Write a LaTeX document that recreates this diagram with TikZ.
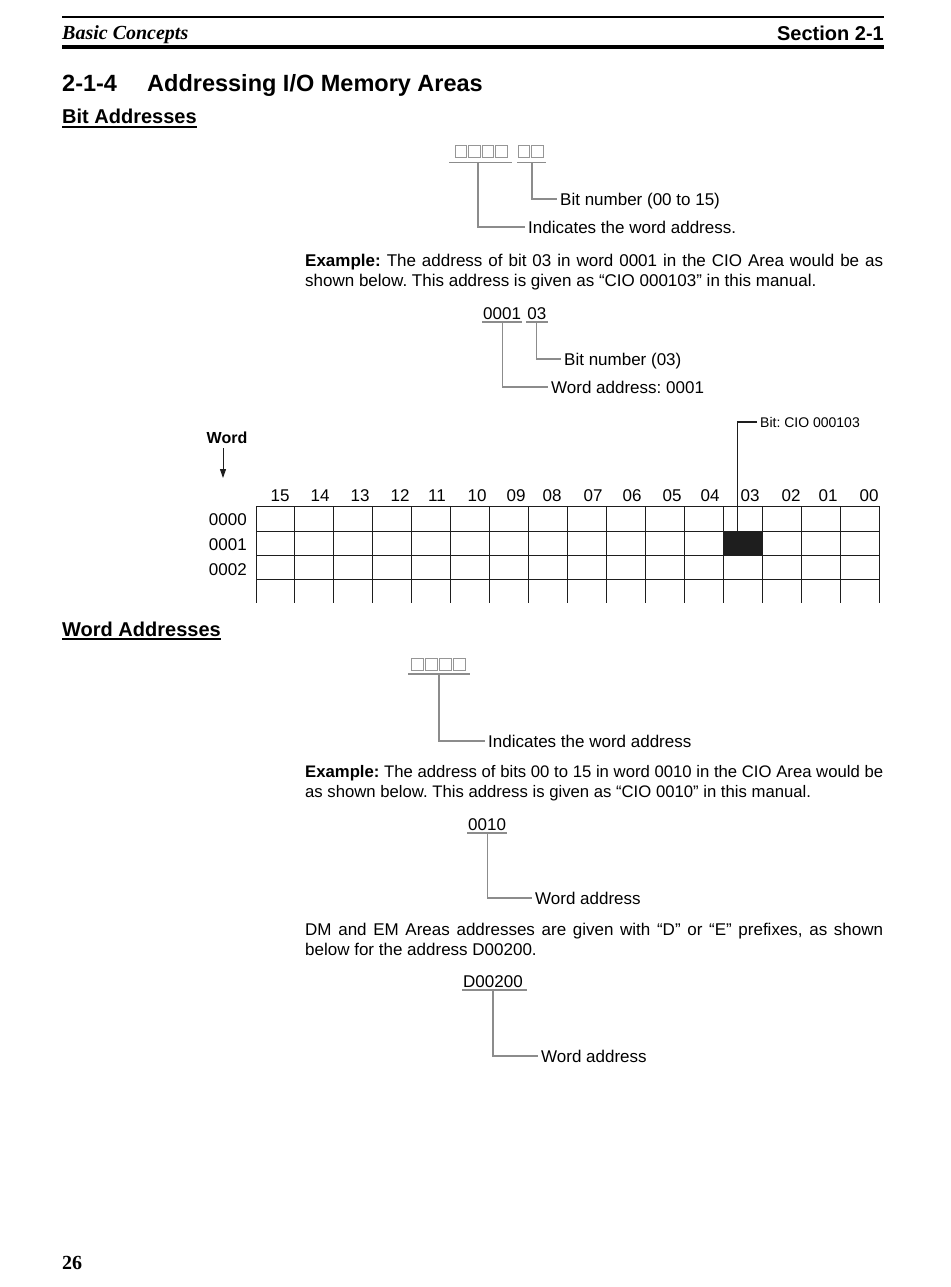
\documentclass[tikz,border=0pt]{standalone}
\usepackage{fontspec}
\setmainfont{Liberation Sans}
\newfontfamily\headserif{Liberation Serif}
\usepackage{tikz}
\usetikzlibrary{positioning,arrows.meta}
\usepackage{xcolor}
\definecolor{leadgray}{RGB}{140,140,140}
\definecolor{boxgray} {RGB}{150,150,150}
\definecolor{gridink} {RGB}{30, 30, 30}

\newcommand{\bodysize}{\fontsize{17}{20}\selectfont\frenchspacing}
\newcommand{\headsize}{\fontsize{20}{24}\selectfont}

\tikzset{
  plain/.style={inner sep=0pt, anchor=base west, font=\bodysize},
  addr/.style={inner sep=0pt, anchor=base west, font=\bodysize},
  lbl/.style={inner xsep=3pt, inner ysep=0pt, anchor=west,
              text height=12pt, text depth=0pt, font=\bodysize},
  lead/.style={draw=leadgray, line width=1.1pt},
  uline/.style={draw=leadgray, line width=1.1pt},
  sqbox/.style={draw=boxgray, line width=0.9pt},
  para/.style={inner sep=0pt, anchor=north west, text width=578pt,
               align=justify, font=\bodysize},
  cell/.style={draw=gridink, line width=1pt},
}

\begin{document}
\frenchspacing
\begin{tikzpicture}[x=1pt,y=-1pt]
  \useasboundingbox[fill=white] (0,0) rectangle (950,1287);

  % page head
  \draw[line width=1.5pt] (62,17) -- (884,17);
  \node[plain, font=\headsize\headserif\bfseries\itshape] (runhead) at (62,40) {Basic Concepts};
  \node[plain, anchor=base east, font=\headsize\bfseries] (sechead) at (884,41) {Section 2-1};
  \draw[line width=4.5pt] (62,47) -- (884,47);

  \node[plain, font=\fontsize{23.5}{28}\selectfont\bfseries] (secnum) at (62,92) {2-1-4};
  \node[plain, font=\fontsize{23.5}{28}\selectfont\bfseries] (sectitle) at (147,92) {Addressing I/O Memory Areas};

  \node[plain, font=\headsize\bfseries] (bithd) at (62,124) {Bit Addresses};
  \draw[line width=1.6pt] ([yshift=-3pt]bithd.base west) -- ([yshift=-3pt]bithd.base east);

  % bit address form
  \foreach \k in {0,...,3}
    \draw[sqbox] (455+\k*13.5,145) rectangle ++(11.5,12);
  \foreach \k in {0,1}
    \draw[sqbox] (518+\k*13.5,145) rectangle ++(11.5,12);
  \draw[uline] (449,162.5) -- (512,162.5);
  \draw[uline] (517,162.5) -- (546,162.5);
  \coordinate (wtick) at (478,162.5);
  \coordinate (btick) at (532,162.5);
  \node[lbl] (bitnum) at (557,199) {Bit number (00 to 15)};
  \node[lbl] (wordind) at (525,227) {Indicates the word address.};
  \draw[lead] (btick) |- (bitnum.west);
  \draw[lead] (wtick) |- (wordind.west);

  \node[para] (ex1) at (305,252) {\strut\textbf{Example:} The address of bit 03 in word 0001 in the CIO Area would be as\linebreak shown below. This address is given as “CIO 000103” in this manual.};

  % example 0001 03
  \node[addr] (w0001) at (483,319) {0001};
  \node[addr, base right=6pt of w0001] (b03) {03};
  \draw[uline] ([shift={(-1pt,-3pt)}]w0001.base west) -- ([shift={(1pt,-3pt)}]w0001.base east);
  \draw[uline] ([shift={(-1pt,-3pt)}]b03.base west) -- ([shift={(1pt,-3pt)}]b03.base east);
  \node[lbl] (bitnum3) at (561,359) {Bit number (03)};
  \node[lbl] (wordaddr1) at (548,387) {Word address: 0001};
  \draw[lead] ([yshift=-3pt]b03.base) |- (bitnum3.west);
  \draw[lead] ([yshift=-3pt]w0001.base) |- (wordaddr1.west);

  % memory map
  \node[plain, anchor=base, font=\fontsize{16}{19}\selectfont\bfseries] (wordhd) at (227,443) {Word};
  \coordinate (wordtip) at (223,478);
  \draw[-{Triangle[width=6pt,length=9pt]}, line width=1pt, gridink]
    (wordhd.south -| wordtip) ++(0,5) -- (wordtip);

  \foreach \bn/\bx in {15/280,14/320,13/360,12/400,11/437,10/477,09/516,08/552,
                       07/593,06/632,05/672,04/710,03/750,02/791,01/828,00/869}
    \node[plain, anchor=base] (col\bn) at (\bx,501) {\bn};
  \foreach \w/\wy in {0000/525,0001/550,0002/575}
    \node[plain, anchor=base east] (row\w) at (247,\wy) {\w};

  \foreach \c in {0,...,16}
    \draw[cell] (256+\c*38.94,506) -- (256+\c*38.94,603);
  \foreach \r in {506,531,555,579}
    \draw[cell] (256,\r) -- (879,\r);
  \node[fill=gridink, inner sep=0pt, minimum width=38.94pt, minimum height=24pt,
        anchor=north west] (bit03) at (723.3,531) {};

  \node[lbl, font=\fontsize{14}{16}\selectfont\frenchspacing, text height=10pt] (bitlbl) at (757,422) {Bit: CIO 000103};
  \draw[line width=1.2pt, gridink] (bitlbl.west) -| ([xshift=-5.7pt]bit03.north);

  % word addresses
  \node[plain, font=\headsize\bfseries] (wordhd2) at (62,636) {Word Addresses};
  \draw[line width=1.6pt] ([yshift=-3pt]wordhd2.base west) -- ([yshift=-3pt]wordhd2.base east);

  \foreach \k in {0,...,3}
    \draw[sqbox] (411+\k*14,658) rectangle ++(12,12);
  \draw[uline] (408,674) -- (470,674);
  \coordinate (wtick2) at (439,674);
  \node[lbl] (wordind2) at (485,741) {Indicates the word address};
  \draw[lead] (wtick2) |- (wordind2.west);

  \node[para, font=\fontsize{16.7}{20}\selectfont\frenchspacing] (ex2) at (305,763) {\strut\textbf{Example:} The address of bits 00 to 15 in word 0010 in the CIO Area would be\linebreak as shown below. This address is given as “CIO 0010” in this manual.};

  \node[addr] (w0010) at (468,830) {0010};
  \draw[uline] ([shift={(-1pt,-3pt)}]w0010.base west) -- ([shift={(1pt,-3pt)}]w0010.base east);
  \node[lbl] (wordaddr2) at (532,898) {Word address};
  \draw[lead] ([yshift=-3pt]w0010.base) |- (wordaddr2.west);

  \node[para] (dmtxt) at (305,921) {\strut DM and EM Areas addresses are given with “D” or “E” prefixes, as shown\linebreak below for the address D00200.};

  \node[addr] (d00200) at (463,987) {D00200};
  \draw[uline] ([shift={(-1pt,-3pt)}]d00200.base west) -- ([shift={(4pt,-3pt)}]d00200.base east);
  \node[lbl] (wordaddr3) at (538,1056) {Word address};
  \draw[lead] ([yshift=-3pt]d00200.base) |- (wordaddr3.west);

  % folio
  \node[plain, font=\headsize\headserif\bfseries] (folio) at (62,1269) {26};
\end{tikzpicture}
\end{document}
